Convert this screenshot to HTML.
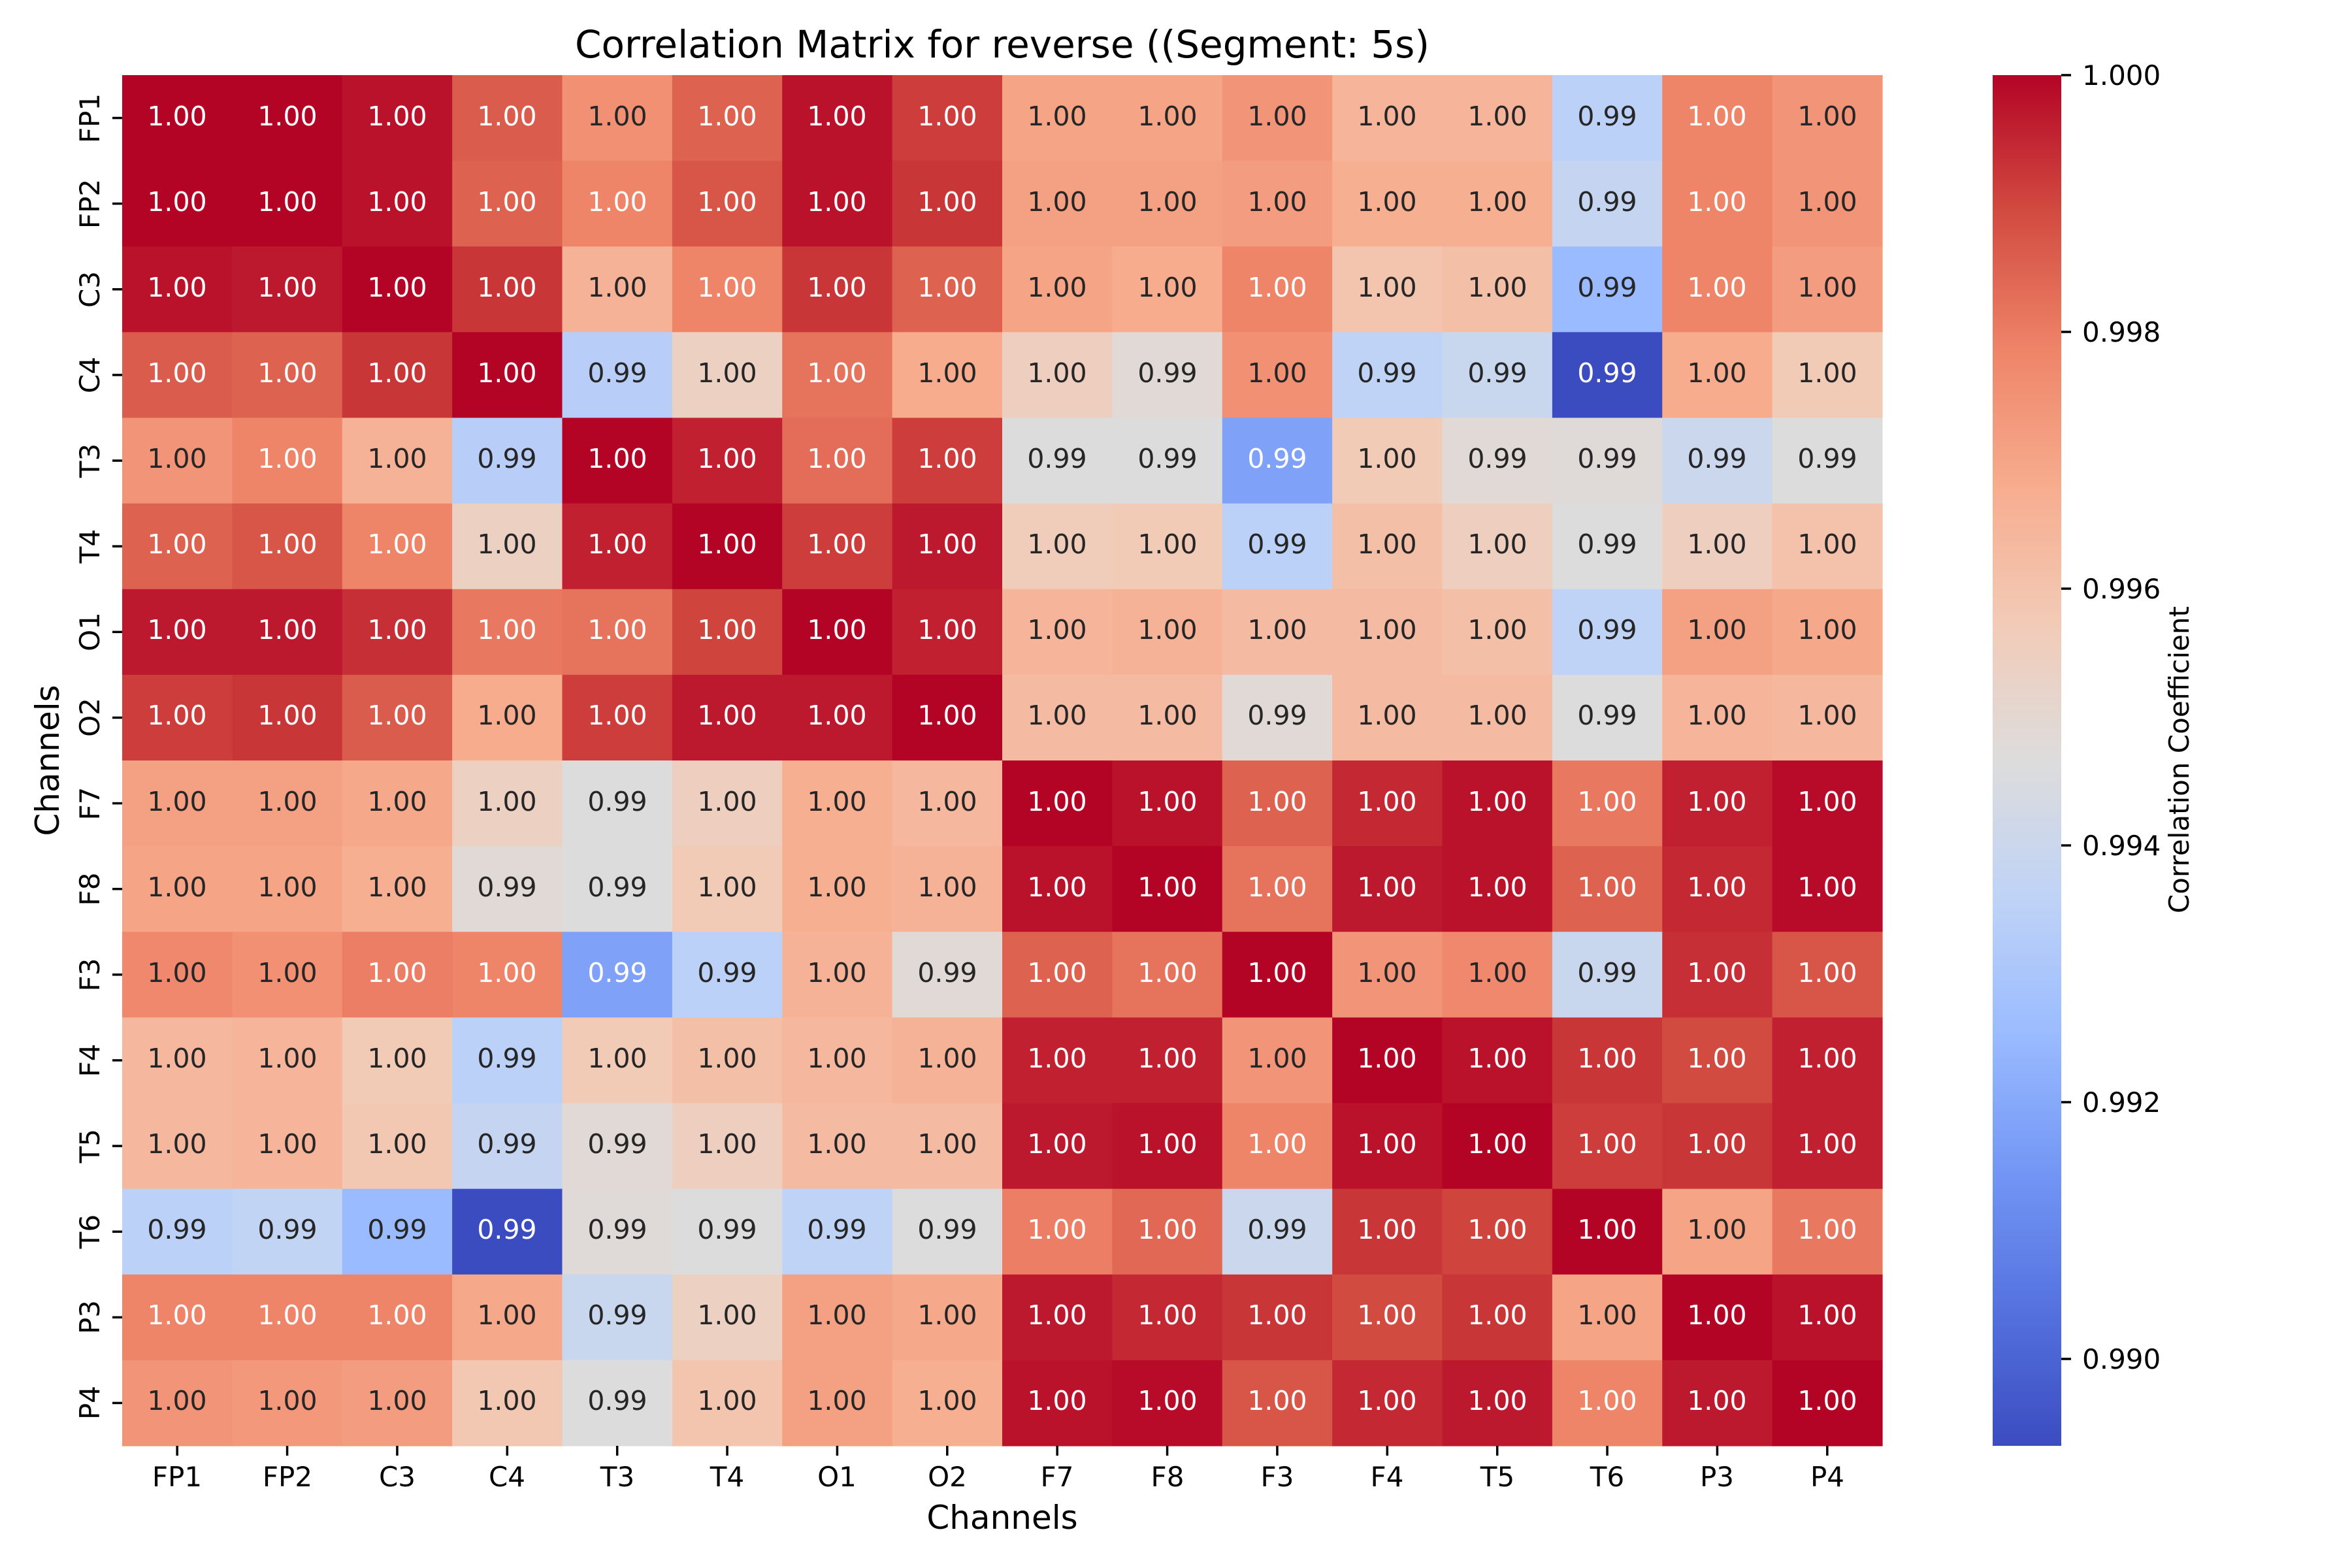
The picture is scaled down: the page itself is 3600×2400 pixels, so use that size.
<!DOCTYPE html>
<html><head><meta charset="utf-8">
<style>
html,body{margin:0;padding:0;background:#fff;}
svg{display:block;}
text{font-family:"DejaVu Sans","Liberation Sans",sans-serif;}
.an{font-size:41px;text-anchor:middle;}
.tk{font-size:42px;fill:#000;}
</style></head>
<body>
<svg id="s" width="3600" height="2400" viewBox="0 0 3600 2400" xmlns="http://www.w3.org/2000/svg">
<defs>
<linearGradient id="cb" x1="0" y1="1" x2="0" y2="0">
<stop offset="0" stop-color="#3b4cc0"/><stop offset="0.1" stop-color="#5572df"/><stop offset="0.2" stop-color="#7396f5"/><stop offset="0.3" stop-color="#9abbff"/><stop offset="0.4" stop-color="#bfd3f6"/><stop offset="0.5" stop-color="#dddcdc"/><stop offset="0.6" stop-color="#f2cbb7"/><stop offset="0.7" stop-color="#f7ac8e"/><stop offset="0.8" stop-color="#ee8468"/><stop offset="0.9" stop-color="#d24b40"/><stop offset="1" stop-color="#b40426"/>
</linearGradient>
</defs>
<g id="cells"></g>
<text x="1534" y="88" style="font-size:58px;text-anchor:middle">Correlation Matrix for reverse ((Segment: 5s)</text>
<g id="ann" class="an" transform="translate(0,-4)">
<text y="196"><tspan x="271">1.00</tspan><tspan x="440">1.00</tspan><tspan x="608">1.00</tspan><tspan x="776">1.00</tspan><tspan x="945">1.00</tspan><tspan x="1113">1.00</tspan><tspan x="1281">1.00</tspan><tspan x="1450">1.00</tspan><tspan x="1618">1.00</tspan><tspan x="1787">1.00</tspan><tspan x="1955">1.00</tspan><tspan x="2123">1.00</tspan><tspan x="2292">1.00</tspan><tspan x="2460">0.99</tspan><tspan x="2628">1.00</tspan><tspan x="2797">1.00</tspan></text>
<text y="327"><tspan x="271">1.00</tspan><tspan x="440">1.00</tspan><tspan x="608">1.00</tspan><tspan x="776">1.00</tspan><tspan x="945">1.00</tspan><tspan x="1113">1.00</tspan><tspan x="1281">1.00</tspan><tspan x="1450">1.00</tspan><tspan x="1618">1.00</tspan><tspan x="1787">1.00</tspan><tspan x="1955">1.00</tspan><tspan x="2123">1.00</tspan><tspan x="2292">1.00</tspan><tspan x="2460">0.99</tspan><tspan x="2628">1.00</tspan><tspan x="2797">1.00</tspan></text>
<text y="458"><tspan x="271">1.00</tspan><tspan x="440">1.00</tspan><tspan x="608">1.00</tspan><tspan x="776">1.00</tspan><tspan x="945">1.00</tspan><tspan x="1113">1.00</tspan><tspan x="1281">1.00</tspan><tspan x="1450">1.00</tspan><tspan x="1618">1.00</tspan><tspan x="1787">1.00</tspan><tspan x="1955">1.00</tspan><tspan x="2123">1.00</tspan><tspan x="2292">1.00</tspan><tspan x="2460">0.99</tspan><tspan x="2628">1.00</tspan><tspan x="2797">1.00</tspan></text>
<text y="589"><tspan x="271">1.00</tspan><tspan x="440">1.00</tspan><tspan x="608">1.00</tspan><tspan x="776">1.00</tspan><tspan x="945">0.99</tspan><tspan x="1113">1.00</tspan><tspan x="1281">1.00</tspan><tspan x="1450">1.00</tspan><tspan x="1618">1.00</tspan><tspan x="1787">0.99</tspan><tspan x="1955">1.00</tspan><tspan x="2123">0.99</tspan><tspan x="2292">0.99</tspan><tspan x="2460">0.99</tspan><tspan x="2628">1.00</tspan><tspan x="2797">1.00</tspan></text>
<text y="720"><tspan x="271">1.00</tspan><tspan x="440">1.00</tspan><tspan x="608">1.00</tspan><tspan x="776">0.99</tspan><tspan x="945">1.00</tspan><tspan x="1113">1.00</tspan><tspan x="1281">1.00</tspan><tspan x="1450">1.00</tspan><tspan x="1618">0.99</tspan><tspan x="1787">0.99</tspan><tspan x="1955">0.99</tspan><tspan x="2123">1.00</tspan><tspan x="2292">0.99</tspan><tspan x="2460">0.99</tspan><tspan x="2628">0.99</tspan><tspan x="2797">0.99</tspan></text>
<text y="851"><tspan x="271">1.00</tspan><tspan x="440">1.00</tspan><tspan x="608">1.00</tspan><tspan x="776">1.00</tspan><tspan x="945">1.00</tspan><tspan x="1113">1.00</tspan><tspan x="1281">1.00</tspan><tspan x="1450">1.00</tspan><tspan x="1618">1.00</tspan><tspan x="1787">1.00</tspan><tspan x="1955">0.99</tspan><tspan x="2123">1.00</tspan><tspan x="2292">1.00</tspan><tspan x="2460">0.99</tspan><tspan x="2628">1.00</tspan><tspan x="2797">1.00</tspan></text>
<text y="982"><tspan x="271">1.00</tspan><tspan x="440">1.00</tspan><tspan x="608">1.00</tspan><tspan x="776">1.00</tspan><tspan x="945">1.00</tspan><tspan x="1113">1.00</tspan><tspan x="1281">1.00</tspan><tspan x="1450">1.00</tspan><tspan x="1618">1.00</tspan><tspan x="1787">1.00</tspan><tspan x="1955">1.00</tspan><tspan x="2123">1.00</tspan><tspan x="2292">1.00</tspan><tspan x="2460">0.99</tspan><tspan x="2628">1.00</tspan><tspan x="2797">1.00</tspan></text>
<text y="1113"><tspan x="271">1.00</tspan><tspan x="440">1.00</tspan><tspan x="608">1.00</tspan><tspan x="776">1.00</tspan><tspan x="945">1.00</tspan><tspan x="1113">1.00</tspan><tspan x="1281">1.00</tspan><tspan x="1450">1.00</tspan><tspan x="1618">1.00</tspan><tspan x="1787">1.00</tspan><tspan x="1955">0.99</tspan><tspan x="2123">1.00</tspan><tspan x="2292">1.00</tspan><tspan x="2460">0.99</tspan><tspan x="2628">1.00</tspan><tspan x="2797">1.00</tspan></text>
<text y="1245"><tspan x="271">1.00</tspan><tspan x="440">1.00</tspan><tspan x="608">1.00</tspan><tspan x="776">1.00</tspan><tspan x="945">0.99</tspan><tspan x="1113">1.00</tspan><tspan x="1281">1.00</tspan><tspan x="1450">1.00</tspan><tspan x="1618">1.00</tspan><tspan x="1787">1.00</tspan><tspan x="1955">1.00</tspan><tspan x="2123">1.00</tspan><tspan x="2292">1.00</tspan><tspan x="2460">1.00</tspan><tspan x="2628">1.00</tspan><tspan x="2797">1.00</tspan></text>
<text y="1376"><tspan x="271">1.00</tspan><tspan x="440">1.00</tspan><tspan x="608">1.00</tspan><tspan x="776">0.99</tspan><tspan x="945">0.99</tspan><tspan x="1113">1.00</tspan><tspan x="1281">1.00</tspan><tspan x="1450">1.00</tspan><tspan x="1618">1.00</tspan><tspan x="1787">1.00</tspan><tspan x="1955">1.00</tspan><tspan x="2123">1.00</tspan><tspan x="2292">1.00</tspan><tspan x="2460">1.00</tspan><tspan x="2628">1.00</tspan><tspan x="2797">1.00</tspan></text>
<text y="1507"><tspan x="271">1.00</tspan><tspan x="440">1.00</tspan><tspan x="608">1.00</tspan><tspan x="776">1.00</tspan><tspan x="945">0.99</tspan><tspan x="1113">0.99</tspan><tspan x="1281">1.00</tspan><tspan x="1450">0.99</tspan><tspan x="1618">1.00</tspan><tspan x="1787">1.00</tspan><tspan x="1955">1.00</tspan><tspan x="2123">1.00</tspan><tspan x="2292">1.00</tspan><tspan x="2460">0.99</tspan><tspan x="2628">1.00</tspan><tspan x="2797">1.00</tspan></text>
<text y="1638"><tspan x="271">1.00</tspan><tspan x="440">1.00</tspan><tspan x="608">1.00</tspan><tspan x="776">0.99</tspan><tspan x="945">1.00</tspan><tspan x="1113">1.00</tspan><tspan x="1281">1.00</tspan><tspan x="1450">1.00</tspan><tspan x="1618">1.00</tspan><tspan x="1787">1.00</tspan><tspan x="1955">1.00</tspan><tspan x="2123">1.00</tspan><tspan x="2292">1.00</tspan><tspan x="2460">1.00</tspan><tspan x="2628">1.00</tspan><tspan x="2797">1.00</tspan></text>
<text y="1769"><tspan x="271">1.00</tspan><tspan x="440">1.00</tspan><tspan x="608">1.00</tspan><tspan x="776">0.99</tspan><tspan x="945">0.99</tspan><tspan x="1113">1.00</tspan><tspan x="1281">1.00</tspan><tspan x="1450">1.00</tspan><tspan x="1618">1.00</tspan><tspan x="1787">1.00</tspan><tspan x="1955">1.00</tspan><tspan x="2123">1.00</tspan><tspan x="2292">1.00</tspan><tspan x="2460">1.00</tspan><tspan x="2628">1.00</tspan><tspan x="2797">1.00</tspan></text>
<text y="1900"><tspan x="271">0.99</tspan><tspan x="440">0.99</tspan><tspan x="608">0.99</tspan><tspan x="776">0.99</tspan><tspan x="945">0.99</tspan><tspan x="1113">0.99</tspan><tspan x="1281">0.99</tspan><tspan x="1450">0.99</tspan><tspan x="1618">1.00</tspan><tspan x="1787">1.00</tspan><tspan x="1955">0.99</tspan><tspan x="2123">1.00</tspan><tspan x="2292">1.00</tspan><tspan x="2460">1.00</tspan><tspan x="2628">1.00</tspan><tspan x="2797">1.00</tspan></text>
<text y="2031"><tspan x="271">1.00</tspan><tspan x="440">1.00</tspan><tspan x="608">1.00</tspan><tspan x="776">1.00</tspan><tspan x="945">0.99</tspan><tspan x="1113">1.00</tspan><tspan x="1281">1.00</tspan><tspan x="1450">1.00</tspan><tspan x="1618">1.00</tspan><tspan x="1787">1.00</tspan><tspan x="1955">1.00</tspan><tspan x="2123">1.00</tspan><tspan x="2292">1.00</tspan><tspan x="2460">1.00</tspan><tspan x="2628">1.00</tspan><tspan x="2797">1.00</tspan></text>
<text y="2162"><tspan x="271">1.00</tspan><tspan x="440">1.00</tspan><tspan x="608">1.00</tspan><tspan x="776">1.00</tspan><tspan x="945">0.99</tspan><tspan x="1113">1.00</tspan><tspan x="1281">1.00</tspan><tspan x="1450">1.00</tspan><tspan x="1618">1.00</tspan><tspan x="1787">1.00</tspan><tspan x="1955">1.00</tspan><tspan x="2123">1.00</tspan><tspan x="2292">1.00</tspan><tspan x="2460">1.00</tspan><tspan x="2628">1.00</tspan><tspan x="2797">1.00</tspan></text>
</g>
<g id="ticks" stroke="#000" stroke-width="3.5"></g>
<g class="tk" text-anchor="middle">
<text x="271" y="2275">FP1</text><text x="440" y="2275">FP2</text><text x="608" y="2275">C3</text><text x="776" y="2275">C4</text><text x="945" y="2275">T3</text><text x="1113" y="2275">T4</text><text x="1281" y="2275">O1</text><text x="1450" y="2275">O2</text><text x="1618" y="2275">F7</text><text x="1787" y="2275">F8</text><text x="1955" y="2275">F3</text><text x="2123" y="2275">F4</text><text x="2292" y="2275">T5</text><text x="2460" y="2275">T6</text><text x="2628" y="2275">P3</text><text x="2797" y="2275">P4</text>
</g>
<g class="tk" text-anchor="middle">
<text transform="translate(152,181) rotate(-90)">FP1</text><text transform="translate(152,312) rotate(-90)">FP2</text><text transform="translate(152,443) rotate(-90)">C3</text><text transform="translate(152,574) rotate(-90)">C4</text><text transform="translate(152,705) rotate(-90)">T3</text><text transform="translate(152,836) rotate(-90)">T4</text><text transform="translate(152,967) rotate(-90)">O1</text><text transform="translate(152,1098) rotate(-90)">O2</text><text transform="translate(152,1230) rotate(-90)">F7</text><text transform="translate(152,1361) rotate(-90)">F8</text><text transform="translate(152,1492) rotate(-90)">F3</text><text transform="translate(152,1623) rotate(-90)">F4</text><text transform="translate(152,1754) rotate(-90)">T5</text><text transform="translate(152,1885) rotate(-90)">T6</text><text transform="translate(152,2016) rotate(-90)">P3</text><text transform="translate(152,2147) rotate(-90)">P4</text>
</g>
<text x="1534" y="2340" style="font-size:50px;text-anchor:middle">Channels</text>
<text transform="translate(90,1164) rotate(-90)" style="font-size:50px;text-anchor:middle">Channels</text>
<rect x="3050" y="115" width="105" height="2098" fill="url(#cb)"/>
<g stroke="#000" stroke-width="3.5">
<line x1="3155" y1="115" x2="3170" y2="115"/><line x1="3155" y1="508" x2="3170" y2="508"/><line x1="3155" y1="901" x2="3170" y2="901"/><line x1="3155" y1="1294" x2="3170" y2="1294"/><line x1="3155" y1="1687" x2="3170" y2="1687"/><line x1="3155" y1="2080" x2="3170" y2="2080"/>
</g>
<g class="tk">
<text x="3187" y="130">1.000</text><text x="3187" y="523">0.998</text><text x="3187" y="916">0.996</text><text x="3187" y="1309">0.994</text><text x="3187" y="1702">0.992</text><text x="3187" y="2095">0.990</text>
</g>
<text transform="translate(3350,1163) rotate(-90)" class="tk" text-anchor="middle">Correlation Coefficient</text>
</svg>
<script>
var T=[
[1,1,.98,.87,.77,.86,.98,.92,.72,.72,.76,.67,.67,.39,.8,.76],
[1,1,.98,.86,.8,.88,.98,.93,.73,.73,.74,.69,.69,.42,.8,.76],
[.98,.97,1,.93,.68,.8,.93,.86,.72,.7,.8,.62,.64,.3,.8,.74],
[.87,.86,.93,1,.38,.57,.83,.7,.58,.52,.77,.4,.43,0,.7,.6],
[.76,.8,.68,.38,1,.96,.84,.92,.5,.5,.23,.6,.52,.51,.44,.5],
[.86,.88,.8,.57,.96,1,.92,.97,.59,.6,.39,.64,.58,.5,.58,.63],
[.97,.97,.94,.82,.83,.91,1,.96,.67,.68,.65,.65,.64,.4,.73,.71],
[.92,.93,.87,.7,.92,.97,.97,1,.65,.65,.52,.65,.65,.5,.67,.66],
[.73,.73,.71,.57,.5,.58,.69,.66,1,.98,.86,.95,.98,.82,.96,.99],
[.72,.72,.69,.52,.5,.6,.69,.68,.98,1,.83,.97,.98,.86,.95,.99],
[.79,.77,.81,.8,.23,.39,.68,.52,.86,.83,1,.76,.79,.43,.94,.88],
[.66,.67,.6,.39,.6,.64,.66,.68,.96,.96,.76,1,.98,.93,.9,.96],
[.66,.67,.61,.42,.52,.58,.65,.65,.97,.98,.8,.98,1,.92,.93,.96],
[.39,.41,.3,0,.51,.5,.4,.5,.81,.85,.44,.93,.91,1,.72,.82],
[.8,.8,.8,.71,.43,.57,.73,.71,.97,.95,.93,.9,.93,.72,1,.98],
[.76,.75,.74,.61,.5,.62,.73,.69,.98,.99,.88,.95,.97,.8,.97,1]];
var A=[[0,59,76,192],[.1,85,114,223],[.2,115,150,245],[.3,154,187,255],[.4,191,211,246],[.5,221,220,220],[.6,242,203,183],[.7,247,172,142],[.8,238,132,104],[.9,210,75,64],[1,180,4,38]];
function cw(t){for(var i=0;i<A.length-1;i++){if(t<=A[i+1][0]){var f=(t-A[i][0])/(A[i+1][0]-A[i][0]);return [0,1,2].map(function(k){return Math.round(A[i][k+1]+f*(A[i+1][k+1]-A[i][k+1]))});}}return [180,4,38];}
var ns="http://www.w3.org/2000/svg",g=document.getElementById("cells"),cw_=2694/16,ch=2098/16;
var rows=document.querySelectorAll("#ann text");
for(var r=0;r<16;r++){var sp=rows[r].querySelectorAll("tspan");for(var c=0;c<16;c++){var t=T[r][c],col=cw(t);var e=document.createElementNS(ns,"rect");e.setAttribute("x",(187+c*cw_).toFixed(2));e.setAttribute("y",(115+r*ch).toFixed(2));e.setAttribute("width",(cw_+0.6).toFixed(2));e.setAttribute("height",(ch+0.6).toFixed(2));e.setAttribute("fill","rgb("+col+")");g.appendChild(e);
sp[c].setAttribute("fill",(t>0.795||t<0.26)?"#ffffff":"#262626");}}
var tk=document.getElementById("ticks");
for(var i=0;i<16;i++){var x=187+(i+.5)*cw_,y=115+(i+.5)*ch;
var l=document.createElementNS(ns,"line");l.setAttribute("x1",x);l.setAttribute("x2",x);l.setAttribute("y1",2213);l.setAttribute("y2",2228);tk.appendChild(l);
l=document.createElementNS(ns,"line");l.setAttribute("y1",y);l.setAttribute("y2",y);l.setAttribute("x1",172);l.setAttribute("x2",187);tk.appendChild(l);}
</script>
</body></html>
